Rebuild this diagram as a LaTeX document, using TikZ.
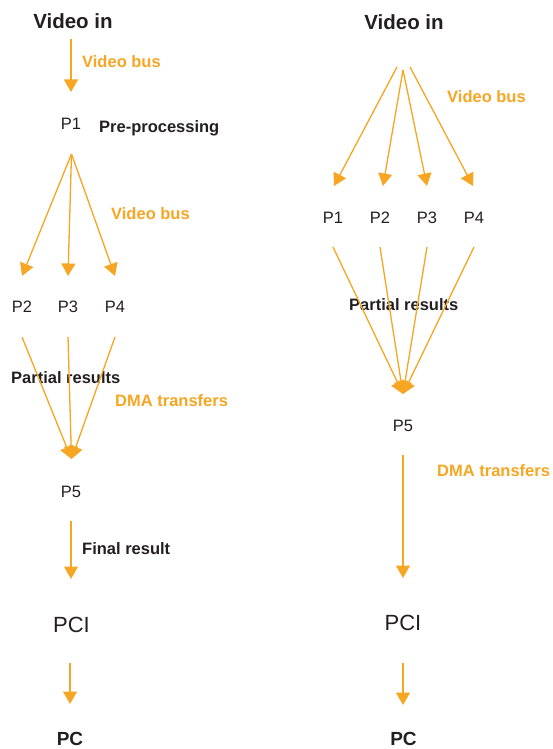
\documentclass[tikz,border=0pt]{standalone}
\usepackage{fontspec}
\setmainfont{Liberation Sans}
\usetikzlibrary{arrows.meta}
\definecolor{flow}{RGB}{246,166,35}
\definecolor{ink}{RGB}{35,31,32}
\tikzset{
  title/.style={font=\fontsize{20.5}{24}\selectfont\bfseries, text=ink, inner sep=0pt, anchor=base},
  proc/.style={font=\fontsize{16.5}{20}\selectfont, text=ink, inner sep=0pt, anchor=base},
  bus/.style={font=\fontsize{16.5}{20}\selectfont\bfseries, text=flow, inner sep=0pt, anchor=base west},
  note/.style={font=\fontsize{16.5}{20}\selectfont\bfseries, text=ink, inner sep=0pt, anchor=base west},
  pci/.style={font=\fontsize{22}{26}\selectfont, text=ink, inner sep=0pt, anchor=base},
  pc/.style={font=\fontsize{19}{23}\selectfont\bfseries, text=ink, inner sep=0pt, anchor=base},
  link/.style={draw=flow, line width=1.3pt, -{Triangle[width=14pt,length=12.5pt]}, fill=flow},
}
\begin{document}
\begin{tikzpicture}[x=1pt,y=1pt]
\useasboundingbox (0,0) rectangle (553,-749);
% ---------- left column ----------
\node[title] (Lvin) at (73,-28.5) {Video in};
\node[bus] (Lvb1) at (82,-67.5) {Video bus};
\node[proc] (LP1) at (71,-130) {P1};
\node[note] (Lpre) at (99,-132) {Pre-processing};
\node[bus] (Lvb2) at (111,-219) {Video bus};
\node[proc] (LP2) at (22,-312.7) {P2};
\node[proc] (LP3) at (68,-312.7) {P3};
\node[proc] (LP4) at (115,-312.7) {P4};
\node[note] (Lpart) at (11,-383) {Partial results};
\node[bus] (Ldma) at (115,-406) {DMA transfers};
\node[proc] (LP5) at (71,-497) {P5};
\node[note] (Lfin) at (82,-554) {Final result};
\node[pci] (Lpci) at (71.5,-632) {PCI};
\node[pc] (Lpc) at (70,-745) {PC};

\coordinate (La0) at (71,-39);   \coordinate (La1) at (71,-92);
\coordinate (Lf0) at (71.5,-154);
\coordinate (Lt2) at (22,-276);  \coordinate (Lt3) at (68,-276);  \coordinate (Lt4) at (115,-276);
\coordinate (Ls2) at (22,-337);  \coordinate (Ls3) at (68,-337);  \coordinate (Ls4) at (115,-337);
\coordinate (Lc) at (71.5,-459);
\coordinate (Lb0) at (71,-521);  \coordinate (Lb1) at (71,-579);
\coordinate (Ld0) at (70,-663);  \coordinate (Ld1) at (70,-704);

\draw[link] (La0) -- (La1);
\draw[link] (Lf0) -- (Lt2);
\draw[link] (Lf0) -- (Lt3);
\draw[link] (Lf0) -- (Lt4);
\draw[link] (Ls2) -- (Lc);
\draw[link] (Ls4) -- (Lc);
\draw[link] (Ls3) -- (Lc);
\draw[link] (Lb0) -- (Lb1);
\draw[link] (Ld0) -- (Ld1);

% ---------- right column ----------
\node[title] (Rvin) at (404,-29.5) {Video in};
\node[bus] (Rvb) at (447,-102.7) {Video bus};
\node[proc] (RP1) at (333,-223.3) {P1};
\node[proc] (RP2) at (380,-223.3) {P2};
\node[proc] (RP3) at (427,-223.3) {P3};
\node[proc] (RP4) at (474,-223.3) {P4};
\node[note] (Rpart) at (349,-310) {Partial results};
\node[proc] (RP5) at (403,-431.7) {P5};
\node[bus] (Rdma) at (437,-476.7) {DMA transfers};
\node[pci] (Rpci) at (403,-630) {PCI};
\node[pc] (Rpc) at (403.5,-745.5) {PC};

\coordinate (Rf1) at (397,-67);  \coordinate (Rf2) at (403,-70);
\coordinate (Rf3) at (403,-70);  \coordinate (Rf4) at (410,-67);
\coordinate (Rt1) at (334,-186); \coordinate (Rt2) at (383,-186);
\coordinate (Rt3) at (427,-186); \coordinate (Rt4) at (473,-186);
\coordinate (Rs1) at (333,-247); \coordinate (Rs2) at (380,-247);
\coordinate (Rs3) at (427,-247); \coordinate (Rs4) at (474,-247);
\coordinate (Rc) at (403,-394);
\coordinate (Rb0) at (403,-455); \coordinate (Rb1) at (403,-578);
\coordinate (Rd0) at (403,-663); \coordinate (Rd1) at (403,-705);

\draw[link] (Rf1) -- (Rt1);
\draw[link] (Rf2) -- (Rt2);
\draw[link] (Rf3) -- (Rt3);
\draw[link] (Rf4) -- (Rt4);
\draw[link] (Rs1) -- (Rc);
\draw[link] (Rs4) -- (Rc);
\draw[link] (Rs2) -- (Rc);
\draw[link] (Rs3) -- (Rc);
\draw[link] (Rb0) -- (Rb1);
\draw[link] (Rd0) -- (Rd1);
\end{tikzpicture}
\end{document}
